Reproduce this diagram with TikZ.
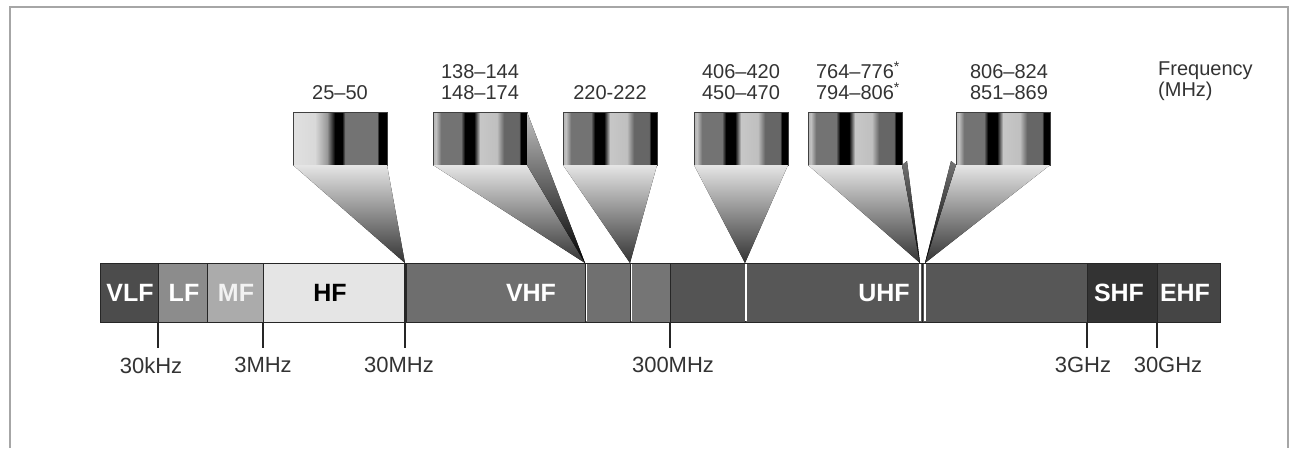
\documentclass[tikz,border=0pt]{standalone}
\usepackage{fontspec}
\setmainfont{Liberation Sans}
\usepackage{xcolor}
\usepackage{tikz}
\usetikzlibrary{calc,positioning}
\definecolor{specframe}{HTML}{A6A6A6}
\definecolor{spectext}{HTML}{333333}
\definecolor{specedge}{HTML}{262626}
% stripes inside the zoomed channel boxes
\pgfdeclarehorizontalshading{stripone}{100bp}{color(0bp)=(black!12); color(25bp)=(black!12); color(36.7bp)=(black!15); color(43.1bp)=(black!40); color(46.3bp)=(black!85); color(47.3bp)=(black); color(51.1bp)=(black); color(52.7bp)=(black!55); color(69.7bp)=(black!55); color(70.7bp)=(black); color(100bp)=(black)}
\pgfdeclarehorizontalshading{stripmany}{100bp}{color(0bp)=(black!30); color(25bp)=(black!30); color(26.6bp)=(black!25); color(29.3bp)=(black!55); color(39.9bp)=(black!55); color(42bp)=(black); color(46.8bp)=(black); color(50bp)=(black!22); color(59bp)=(black!25); color(62.8bp)=(black!60); color(70.7bp)=(black!60); color(71.8bp)=(black); color(100bp)=(black)}
\tikzset{%
  bandseg/.style={%
    draw=specedge,
    line width=1pt,
    inner sep=0pt,
    outer sep=0pt,
    minimum height=59pt
  },
  bandlbl/.style={font=\fontsize{25}{25}\selectfont\bfseries,text=white,inner sep=0pt},
  chanbox/.style={%
    draw=black!75,
    line width=0.8pt,
    minimum width=94pt,
    minimum height=53pt,
    inner sep=0pt,
    outer sep=0pt
  },
  chanlbl/.style={font=\fontsize{20}{21}\selectfont,text=spectext,align=center,inner sep=0pt},
  funnel/.style={top color=black!10,bottom color=black!80},
  sidewedge/.style={top color=black!25,bottom color=black},
  bandsep/.style={draw=white,line width=1.6pt,shorten <=1pt,shorten >=1pt},
  tickline/.style={draw=specedge,line width=1.2pt},
  ticklbl/.style={font=\fontsize{22}{22}\selectfont,text=spectext,inner xsep=0pt,inner ysep=9pt}
}

\begin{document}
\begin{tikzpicture}[x=1pt,y=-1pt]
    \useasboundingbox (0,0) rectangle (1291,448);
    \fill[white] (0,0) rectangle (1291,448);
    \draw[specframe,line width=2pt] (10,448) -- (10,7) -- (1288,7) -- (1288,448);

    % the band bar
    \node[bandseg,fill=black!70,minimum width=58pt] (vlf) at (129,292.5) {};
    \node[bandseg,fill=black!45,minimum width=49pt,right=0pt of vlf] (lf) {};
    \node[bandseg,fill=black!33,minimum width=56pt,right=0pt of lf] (mf) {};
    \node[bandseg,fill=black!10,minimum width=142pt,right=0pt of mf] (hf) {};
    \node[bandseg,fill=black!57,minimum width=180pt,right=0pt of hf] (vhf) {};
    \node[bandseg,fill=black!56,minimum width=45pt,right=0pt of vhf] (vhfb) {};
    \node[bandseg,fill=black!54,minimum width=40pt,right=0pt of vhfb] (vhfc) {};
    \node[bandseg,fill=black!67,minimum width=75pt,right=0pt of vhfc] (uhfa) {};
    \node[bandseg,fill=black!66,minimum width=177pt,right=0pt of uhfa] (uhf) {};
    \node[bandseg,fill=black!66,minimum width=165pt,right=0pt of uhf] (uhfb) {};
    \node[bandseg,fill=black!80,minimum width=70pt,right=0pt of uhfb] (shf) {};
    \node[bandseg,fill=black!73,minimum width=63pt,right=0pt of shf] (ehf) {};
    \draw[specedge,line width=3pt] (hf.north east) -- (hf.south east);

    \draw[bandsep] ($(vhf.north east)+(1.5,0)$) -- ($(vhf.south east)+(1.5,0)$);
    \draw[bandsep] ($(vhfb.north east)+(1.5,0)$) -- ($(vhfb.south east)+(1.5,0)$);
    \draw[bandsep] ($(uhfa.north east)+(1,0)$) -- ($(uhfa.south east)+(1,0)$);
    \draw[bandsep] ($(uhf.north east)+(-2,0)$) -- ($(uhf.south east)+(-2,0)$);
    \draw[bandsep] ($(uhf.north east)+(3,0)$) -- ($(uhf.south east)+(3,0)$);

    \node[bandlbl] (lvlf) at (130,293) {VLF};
    \node[bandlbl] (llf) at (184,293) {LF};
    \node[bandlbl,text=black!5] (lmf) at (236,293) {MF};
    \node[bandlbl,text=black] (lhf) at (330,293) {HF};
    \node[bandlbl] (lvhf) at (531,293) {VHF};
    \node[bandlbl] (luhf) at (884,293) {UHF};
    \node[bandlbl] (lshf) at (1119,293) {SHF};
    \node[bandlbl] (lehf) at (1185,293) {EHF};

    % zoomed channel boxes
    \node[chanbox,shade,shading=stripone] (ch25) at (340,138.5) {};
    \node[chanbox,shade,shading=stripmany] (ch138) at (480,138.5) {};
    \node[chanbox,shade,shading=stripmany] (ch220) at (610,138.5) {};
    \node[chanbox,shade,shading=stripmany] (ch406) at (741,138.5) {};
    \node[chanbox,shade,shading=stripmany] (ch764) at (855,138.5) {};
    \node[chanbox,shade,shading=stripmany] (ch806) at (1003,138.5) {};

    \coordinate (tipa) at (hf.north east);
    \coordinate (tipb) at (vhf.north east);
    \coordinate (tipc) at (vhfb.north east);
    \coordinate (tipd) at (uhfa.north east);
    \coordinate (tipe) at ($(uhf.north east)+(-2,0)$);
    \coordinate (tipf) at ($(uhf.north east)+(3,0)$);

    \fill[funnel] (ch25.south west) -- (ch25.south east) -- (tipa) -- cycle;
    \fill[funnel] (ch138.south west) -- (ch138.south east) -- (tipb) -- cycle;
    \fill[sidewedge] (ch138.north east) -- (tipb) -- (ch138.south east) -- cycle;
    \fill[funnel] (ch220.south west) -- (ch220.south east) -- (tipc) -- cycle;
    \fill[funnel] (ch406.south west) -- (ch406.south east) -- (tipd) -- cycle;
    \fill[funnel] (ch764.south west) -- (ch764.south east) -- (tipe) -- cycle;
    \fill[sidewedge,top color=black!55] ($(ch764.south east)+(5,-4)$) -- (tipe) -- (ch764.south east) -- cycle;
    \fill[funnel] (ch806.south west) -- (ch806.south east) -- (tipf) -- cycle;
    \fill[sidewedge,top color=black!55] ($(ch806.south west)+(-5,-4)$) -- (tipf) -- (ch806.south west) -- cycle;

    \node[chanlbl,above=12pt of ch25] (l25) {25–50};
    \node[chanlbl,above=12pt of ch138] (l138) {138–144\\148–174};
    \node[chanlbl,above=12pt of ch220] (l220) {220-222};
    \node[chanlbl,above=12pt of ch406] (l406) {406–420\\450–470};
    \node[chanlbl,above=12pt of ch764,xshift=3pt] (l764) {764–776\textsuperscript{*}\\794–806\textsuperscript{*}};
    \node[chanlbl,above=12pt of ch806,xshift=6pt] (l806) {806–824\\851–869};
    \node[chanlbl,align=left,anchor=north west] (unit) at (1158,62) {Frequency\\(MHz)};

    % frequency ticks
    \node[ticklbl,below=26pt of vlf.south east,xshift=-7pt] (k30) {30kHz};
    \node[ticklbl,below=26pt of mf.south east] (m3) {3MHz};
    \node[ticklbl,below=26pt of hf.south east,xshift=-6pt] (m30) {30MHz};
    \node[ticklbl,below=26pt of vhfc.south east,xshift=3pt] (m300) {300MHz};
    \node[ticklbl,below=26pt of uhfb.south east,xshift=-4pt] (g3) {3GHz};
    \node[ticklbl,below=26pt of shf.south east,xshift=11pt] (g30) {30GHz};
    \draw[tickline] (vlf.south east) -- (vlf.south east |- k30.north);
    \draw[tickline] (mf.south east) -- (mf.south east |- m3.north);
    \draw[tickline] (hf.south east) -- (hf.south east |- m30.north);
    \draw[tickline] (vhfc.south east) -- (vhfc.south east |- m300.north);
    \draw[tickline] (uhfb.south east) -- (uhfb.south east |- g3.north);
    \draw[tickline] (shf.south east) -- (shf.south east |- g30.north);
  \end{tikzpicture}
\end{document}
